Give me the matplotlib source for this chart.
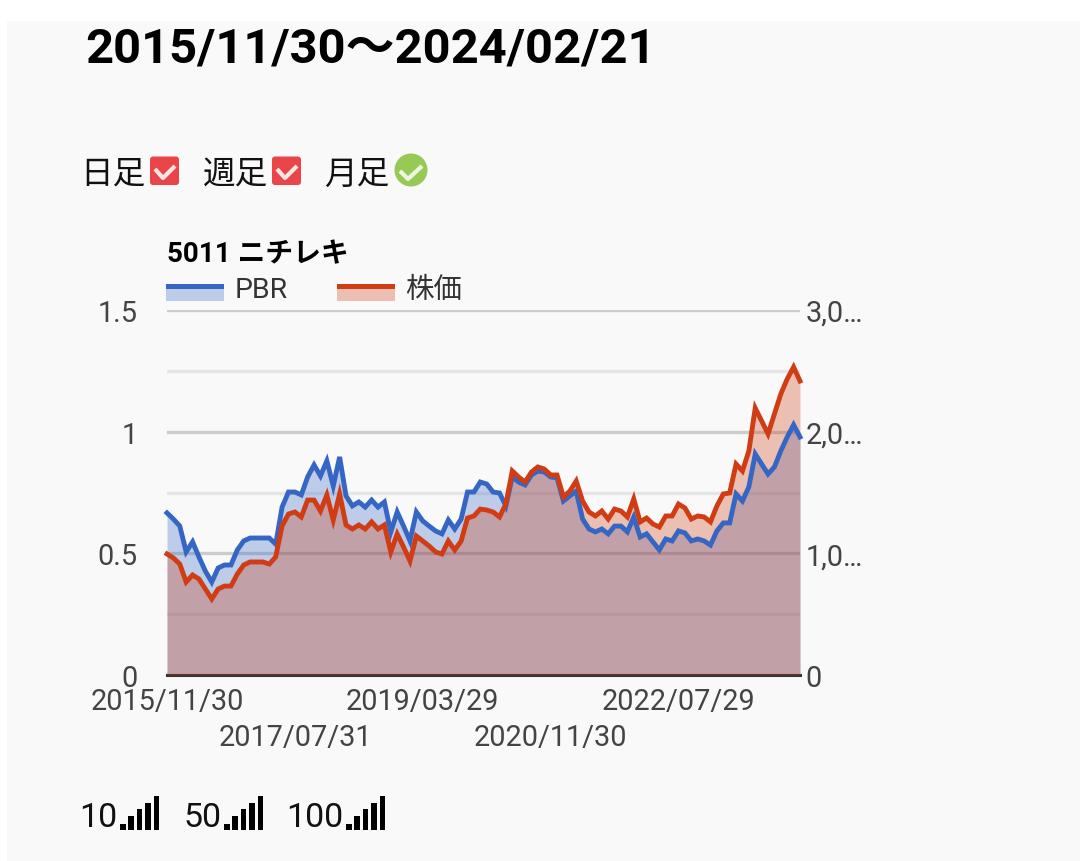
# plot.py
# 5011 ニチレキ PBR / 株価 chart

import matplotlib
matplotlib.use("Agg")
import matplotlib.pyplot as plt
from matplotlib.patches import Rectangle, FancyBboxPatch, Circle

plt.rcParams['font.family'] = ['Roboto', 'Noto Sans CJK JP', 'DejaVu Sans']

# data
title = "2015/11/30〜2024/02/21"
chart_title = "5011 ニチレキ"
pbr = [.666, .641, .612, .506, .547, .485, .427, .382, .440, .452,
       .452, .514, .551, .563, .563, .563, .563, .538, .690, .752,
       .752, .740, .814, .863, .818, .880, .777, .896, .736, .695,
       .711, .690, .719, .690, .711, .588, .670, .612, .551, .670,
       .633, .612, .592, .580, .637, .600, .641, .752, .752, .793,
       .785, .752, .748, .695, .814, .793, .781, .822, .838, .834,
       .814, .810, .715, .736, .756, .641, .600, .588, .600, .580,
       .612, .612, .588, .649, .567, .580, .547, .514, .559, .551,
       .592, .584, .551, .559, .551, .534, .592, .625, .625, .744,
       .715, .773, .908, .867, .826, .855, .921, .978, 1.028, .978]
price = [995, 962, 912, 764, 822, 789, 707, 625, 707, 731,
         731, 830, 904, 929, 929, 929, 912, 970, 1225, 1323,
         1340, 1299, 1438, 1438, 1348, 1479, 1274, 1488, 1233, 1200,
         1233, 1200, 1258, 1200, 1233, 1011, 1159, 1052, 937, 1142,
         1101, 1060, 1011, 995, 1101, 1027, 1101, 1290, 1307, 1364,
         1356, 1340, 1299, 1405, 1677, 1627, 1586, 1668, 1710, 1693,
         1644, 1644, 1463, 1512, 1594, 1430, 1340, 1307, 1348, 1282,
         1364, 1348, 1299, 1447, 1258, 1290, 1241, 1216, 1307, 1307,
         1405, 1373, 1282, 1307, 1299, 1258, 1389, 1488, 1496, 1734,
         1677, 1841, 2194, 2088, 1981, 2145, 2310, 2433, 2531, 2416]
date_idx = [0, 20, 40, 60, 80]
date_labels = ["2015/11/30", "2017/07/31", "2019/03/29", "2020/11/30", "2022/07/29"]
left_ticks = [0, 0.5, 1, 1.5]
left_labels = ["0", "0.5", "1", "1.5"]
right_ticks = [0, 1000, 2000, 3000]
right_labels = ["0", "1,0…", "2,0…", "3,0…"]
minor_ticks = [0.25, 0.75, 1.25]

c_blue = "#3566c4"
c_red = "#d03c14"
c_bg = "#f9f9f9"
c_tick = "#444444"

W, H = 1080, 862
fig = plt.figure(figsize=(W / 100, H / 100), dpi=100, facecolor="white")

# 全体の座標はピクセル
bg = fig.add_axes([0, 0, 1, 1], zorder=0)
bg.set_xlim(0, W)
bg.set_ylim(H, 0)
bg.axis("off")
bg.add_patch(Rectangle((7, 22), W - 7, H - 22, color=c_bg, lw=0))

bg.text(85, 50, title, fontsize=35.2, fontweight="bold", color="black", va="center")

# 足の選択
for x, lab in [(80, "日足"), (203, "週足"), (324, "月足")]:
    bg.text(x, 175, lab, fontsize=23.5, color="#111111", va="center")
for x in [150, 272]:
    bg.add_patch(FancyBboxPatch((x, 157.5), 29, 28.5, boxstyle="round,pad=0,rounding_size=3",
                                fc="#ea4549", lw=0))
    bg.plot([x + 5, x + 13, x + 25], [170, 179, 167], color="#fbe6e6", lw=3,
            solid_capstyle="butt")
bg.add_patch(Circle((411, 171), 16.5, fc="#97c957", lw=0))
bg.plot([400, 408, 422], [172, 180, 167], color="#eef6e0", lw=3, solid_capstyle="butt")

bg.text(167, 255, chart_title, fontsize=20, fontweight="bold", color="black", va="center")

# 凡例
for x, col, lab, tx in [(166, c_blue, "PBR", 235), (337, c_red, "株価", 405)]:
    bg.add_patch(Rectangle((x, 285), 58, 17, fc=col, alpha=0.3, lw=0))
    bg.add_patch(Rectangle((x, 285), 58, 5, fc=col, lw=0))
    bg.text(tx, 291, lab, fontsize=20.5, color="#333333", va="center")

# 下のアンテナ
for x0, tx, lab in [(120, 79, "10"), (224, 183, "50"), (346, 286, "100")]:
    bg.text(tx, 818, lab, fontsize=24.5, color="#111111", va="center")
    for k, top in enumerate([825, 817, 810, 804, 797]):
        bg.add_patch(Rectangle((x0 + k * 8.4, top), 5.5, 831 - top, fc="black", lw=0))

# チャート本体
ax = fig.add_axes([167 / W, 1 - 676 / H, (800 - 167) / W, (676 - 311) / H], zorder=1)
ax.patch.set_alpha(0)
xs = list(range(len(pbr)))
ax.set_xlim(0, len(pbr) - 1)
ax.set_ylim(0, 1.5)
ax.set_yticks(left_ticks)
ax.set_yticklabels(left_labels)
ax.set_yticks(minor_ticks, minor=True)
ax.grid(True, which="major", axis="y", color="#cccccc", lw=2.4, zorder=0)
ax.grid(True, which="minor", axis="y", color="#e6e6e6", lw=2.4, zorder=0)
ax.tick_params(axis="y", which="both", length=0, pad=21, labelsize=20.8, labelcolor=c_tick)
ax.set_xticks(date_idx)
ax.set_xticklabels(date_labels)
ax.tick_params(axis="x", length=0, pad=9, labelsize=20.8, labelcolor=c_tick)
for tick in ax.xaxis.get_major_ticks()[1::2]:
    tick.set_pad(34.5)
for side in ["top", "left", "right"]:
    ax.spines[side].set_visible(False)
ax.spines["bottom"].set_color("#333333")
ax.spines["bottom"].set_linewidth(2.2)
ax.spines["bottom"].set_zorder(6)

ax.fill_between(xs, pbr, 0, color=c_blue, alpha=0.3, lw=0, zorder=2)

ax2 = ax.twinx()
ax2.set_zorder(2)
ax2.patch.set_alpha(0)
ax2.set_ylim(0, 3000)
ax2.set_yticks(right_ticks)
ax2.set_yticklabels(right_labels)
ax2.tick_params(axis="y", length=0, pad=4, labelsize=20.8, labelcolor=c_tick)
for side in ax2.spines:
    ax2.spines[side].set_visible(False)
ax2.fill_between(xs, price, 0, color=c_red, alpha=0.3, lw=0, zorder=2)
# 線は塗りの上に、PBRは左軸のスケールで
ax2.plot(xs, pbr, color=c_blue, lw=3.5, solid_joinstyle="miter", zorder=3,
         transform=ax.transData, clip_on=False)
ax2.plot(xs, price, color=c_red, lw=3.5, solid_joinstyle="miter", zorder=4, clip_on=False)

fig.savefig("out.png", dpi=100, facecolor="white")
